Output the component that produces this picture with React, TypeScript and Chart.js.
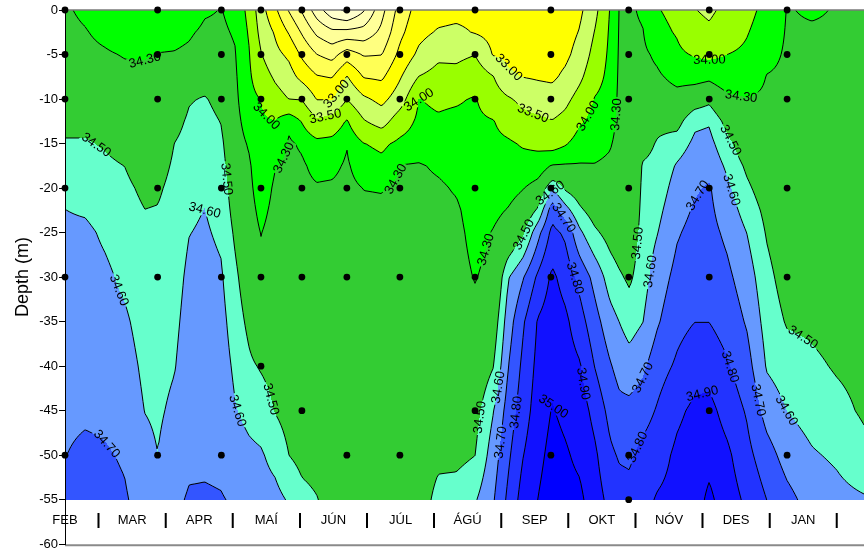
import React, { useEffect, useRef } from "react";
import { Chart, registerables } from "chart.js";

Chart.register(...registerables);

const FONT_FAMILY = "'Liberation Sans', Arial, Helvetica, sans-serif";

// ---- axis text ----
const MONTH_LABELS = ["FEB", "MAR", "APR", "MAÍ", "JÚN", "JÚL", "ÁGÚ", "SEP", "OKT", "NÓV", "DES", "JAN"];
const MONTH_POSITIONS = [0, 1, 2, 3, 4, 5, 6, 7, 8, 9, 10, 11];
const SEPARATOR_POSITIONS = [0.5, 1.5, 2.5, 3.5, 4.5, 5.5, 6.5, 7.5, 8.5, 9.5, 10.5, 11.5];
const MONTH_LABEL_DEPTH = -57.3;
const Y_TITLE = "Depth (m)";

// ---- sampling stations (dots) ----
const STATION_MONTHS = [0, 1.38, 2.33, 2.92, 3.53, 4.2, 4.99, 6.11, 7.24, 8.4, 9.6, 10.76];
const STATION_DEPTHS = [
  [0, 5, 10, 20, 30, 50],
  [0, 5, 10, 20, 30, 50],
  [0, 5, 10, 20, 30, 50],
  [0, 5, 10, 20, 30, 40],
  [0, 5, 10, 20, 30, 45],
  [0, 5, 10, 20, 30, 50],
  [0, 5, 10, 20, 30, 50],
  [0, 5, 10, 20, 30, 45],
  [0, 5, 10, 20, 30, 50],
  [0, 5, 10, 20, 30, 50, 55],
  [0, 5, 10, 20, 30, 45],
  [0, 5, 10, 20, 30, 50],
];

// ---- salinity field ----
const DEPTHS = [0, 2.5, 5, 7.5, 10, 12.5, 15, 17.5, 20, 22.5, 25, 30, 35, 40, 45, 50, 55];
const COLUMN_MONTHS = [
  0.0, 0.3, 0.59, 0.89, 1.19, 1.38, 1.63, 1.85, 2.08, 2.33, 2.54, 2.74, 2.92, 3.13, 3.34, 3.53, 3.75,
  3.98, 4.2, 4.45, 4.72, 4.99, 5.27, 5.56, 5.83, 6.11, 6.38, 6.6, 6.82, 7.05, 7.26, 7.46, 7.67, 7.89,
  8.12, 8.26, 8.41, 8.61, 8.83, 9.12, 9.38, 9.6, 9.87, 10.16, 10.46, 10.76, 11.13, 11.5, 11.91,
];
const SALINITY = [
  [34.32, 34.34, 34.36, 34.39, 34.43, 34.47, 34.51, 34.54, 34.58, 34.601, 34.62, 34.64, 34.65, 34.66, 34.68, 34.698, 34.73],
  [34.27, 34.31, 34.34, 34.38, 34.42, 34.47, 34.51, 34.54, 34.565, 34.59, 34.62, 34.64, 34.65, 34.66, 34.685, 34.72, 34.74],
  [34.2, 34.26, 34.32, 34.36, 34.4, 34.45, 34.49, 34.52, 34.54, 34.56, 34.585, 34.62, 34.64, 34.66, 34.68, 34.71, 34.73],
  [34.15, 34.2, 34.29, 34.34, 34.38, 34.42, 34.46, 34.499, 34.52, 34.535, 34.55, 34.58, 34.615, 34.64, 34.66, 34.69, 34.71],
  [34.16, 34.22, 34.29, 34.33, 34.36, 34.39, 34.42, 34.45, 34.48, 34.501, 34.52, 34.54, 34.56, 34.58, 34.598, 34.63, 34.66],
  [34.18, 34.24, 34.305, 34.34, 34.37, 34.4, 34.43, 34.46, 34.485, 34.505, 34.52, 34.54, 34.555, 34.57, 34.585, 34.601, 34.625],
  [34.19, 34.25, 34.31, 34.36, 34.41, 34.46, 34.501, 34.515, 34.53, 34.54, 34.55, 34.565, 34.58, 34.595, 34.62, 34.65, 34.68],
  [34.2, 34.28, 34.33, 34.4, 34.49, 34.52, 34.54, 34.56, 34.575, 34.587, 34.598, 34.62, 34.635, 34.65, 34.665, 34.68, 34.71],
  [34.28, 34.33, 34.38, 34.44, 34.51, 34.54, 34.56, 34.575, 34.59, 34.601, 34.61, 34.63, 34.645, 34.655, 34.67, 34.685, 34.71],
  [34.305, 34.33, 34.37, 34.41, 34.46, 34.495, 34.52, 34.54, 34.56, 34.572, 34.585, 34.61, 34.63, 34.645, 34.66, 34.68, 34.705],
  [34.24, 34.28, 34.31, 34.33, 34.35, 34.37, 34.39, 34.41, 34.43, 34.455, 34.48, 34.52, 34.55, 34.58, 34.605, 34.64, 34.69],
  [33.9, 33.97, 34.03, 34.07, 34.12, 34.2, 34.28, 34.33, 34.35, 34.37, 34.39, 34.43, 34.475, 34.52, 34.575, 34.62, 34.65],
  [33.2, 33.35, 33.53, 33.75, 33.99, 34.06, 34.11, 34.16, 34.2, 34.25, 34.295, 34.35, 34.4, 34.49, 34.555, 34.61, 34.64],
  [32.6, 32.95, 33.14, 33.43, 33.7, 34.01, 34.15, 34.29, 34.33, 34.35, 34.37, 34.4, 34.43, 34.46, 34.495, 34.57, 34.63],
  [31.95, 32.45, 32.9, 33.2, 33.49, 34.25, 34.33, 34.345, 34.355, 34.365, 34.375, 34.39, 34.41, 34.43, 34.46, 34.499, 34.59],
  [31.45, 31.95, 32.42, 32.85, 33.48, 33.98, 34.27, 34.33, 34.35, 34.36, 34.37, 34.39, 34.4, 34.42, 34.44, 34.47, 34.53],
  [30.75, 31.4, 32.01, 32.54, 32.98, 33.58, 34.12, 34.24, 34.32, 34.35, 34.37, 34.39, 34.4, 34.41, 34.43, 34.46, 34.505],
  [30.15, 31.12, 31.82, 32.47, 32.97, 33.72, 34.13, 34.25, 34.33, 34.35, 34.37, 34.39, 34.4, 34.41, 34.42, 34.44, 34.46],
  [29.9, 31.15, 32.25, 33.03, 33.49, 34.04, 34.29, 34.33, 34.36, 34.37, 34.38, 34.4, 34.41, 34.42, 34.43, 34.44, 34.45],
  [30.45, 31.2, 31.96, 32.47, 33.09, 33.54, 34.01, 34.18, 34.295, 34.34, 34.36, 34.38, 34.4, 34.41, 34.42, 34.43, 34.44],
  [31.35, 31.62, 31.99, 32.42, 32.86, 33.3, 33.92, 34.1, 34.29, 34.33, 34.35, 34.37, 34.39, 34.4, 34.41, 34.42, 34.43],
  [32.2, 32.38, 32.62, 32.95, 33.26, 33.77, 34.09, 34.31, 34.34, 34.35, 34.36, 34.37, 34.38, 34.39, 34.4, 34.41, 34.42],
  [32.7, 32.85, 33.1, 33.51, 34.01, 34.08, 34.18, 34.32, 34.35, 34.36, 34.37, 34.38, 34.39, 34.4, 34.41, 34.42, 34.43],
  [32.8, 33.05, 33.4, 33.67, 33.94, 34.04, 34.13, 34.27, 34.33, 34.35, 34.36, 34.38, 34.4, 34.42, 34.44, 34.47, 34.54],
  [32.85, 33.1, 33.4, 33.64, 33.96, 34.08, 34.16, 34.23, 34.28, 34.33, 34.35, 34.37, 34.39, 34.41, 34.43, 34.47, 34.55],
  [32.85, 32.97, 33.49, 33.8, 34.03, 34.08, 34.12, 34.15, 34.18, 34.21, 34.24, 34.29, 34.36, 34.41, 34.46, 34.499, 34.59],
  [32.8, 32.85, 32.97, 33.52, 33.75, 34.02, 34.1, 34.15, 34.2, 34.26, 34.31, 34.36, 34.43, 34.495, 34.595, 34.65, 34.69],
  [32.75, 32.8, 32.92, 33.07, 33.56, 33.82, 34.06, 34.15, 34.23, 34.31, 34.38, 34.59, 34.65, 34.695, 34.74, 34.78, 34.82],
  [32.75, 32.78, 32.85, 32.99, 33.38, 33.66, 33.96, 34.15, 34.29, 34.4, 34.48, 34.69, 34.785, 34.82, 34.85, 34.895, 34.94],
  [32.75, 32.76, 32.8, 32.95, 33.25, 33.6, 33.9, 34.19, 34.38, 34.52, 34.67, 34.82, 34.91, 34.93, 34.95, 34.975, 35.002],
  [32.75, 32.75, 32.78, 32.92, 33.2, 33.52, 33.85, 34.32, 34.601, 34.76, 34.83, 34.92, 34.955, 34.98, 35.005, 35.03, 35.05],
  [32.78, 32.8, 32.9, 33.1, 33.38, 33.65, 33.97, 34.33, 34.48, 34.64, 34.78, 34.86, 34.92, 34.95, 34.98, 35.01, 35.03],
  [32.9, 33.03, 33.18, 33.4, 33.68, 33.96, 34.16, 34.32, 34.43, 34.52, 34.62, 34.77, 34.84, 34.91, 34.95, 34.98, 35.02],
  [33.35, 33.51, 33.66, 33.82, 34.02, 34.12, 34.22, 34.31, 34.39, 34.45, 34.52, 34.67, 34.74, 34.799, 34.87, 34.92, 34.95],
  [34.02, 34.06, 34.09, 34.12, 34.16, 34.21, 34.28, 34.34, 34.38, 34.41, 34.46, 34.555, 34.64, 34.71, 34.77, 34.82, 34.87],
  [34.31, 34.32, 34.33, 34.34, 34.35, 34.36, 34.37, 34.38, 34.39, 34.41, 34.43, 34.515, 34.599, 34.665, 34.73, 34.79, 34.84],
  [34.33, 34.335, 34.34, 34.345, 34.35, 34.36, 34.37, 34.38, 34.39, 34.4, 34.42, 34.48, 34.56, 34.64, 34.73, 34.785, 34.83],
  [34.27, 34.31, 34.34, 34.36, 34.38, 34.41, 34.46, 34.51, 34.52, 34.53, 34.54, 34.56, 34.598, 34.68, 34.76, 34.83, 34.87],
  [34.02, 34.1, 34.26, 34.33, 34.4, 34.47, 34.51, 34.53, 34.55, 34.575, 34.598, 34.65, 34.69, 34.76, 34.81, 34.86, 34.91],
  [33.9, 33.97, 34.07, 34.24, 34.37, 34.46, 34.55, 34.61, 34.64, 34.665, 34.69, 34.73, 34.77, 34.815, 34.88, 34.92, 34.93],
  [33.52, 33.7, 33.97, 34.23, 34.43, 34.58, 34.62, 34.66, 34.69, 34.71, 34.73, 34.76, 34.799, 34.86, 34.92, 34.95, 34.96],
  [33.4, 33.6, 33.92, 34.26, 34.47, 34.59, 34.63, 34.67, 34.71, 34.72, 34.73, 34.76, 34.799, 34.86, 34.93, 34.97, 35.02],
  [33.65, 33.82, 34.001, 34.17, 34.35, 34.46, 34.53, 34.58, 34.62, 34.65, 34.68, 34.72, 34.76, 34.81, 34.86, 34.92, 34.95],
  [33.9, 33.98, 34.06, 34.15, 34.31, 34.36, 34.42, 34.48, 34.52, 34.56, 34.599, 34.65, 34.69, 34.74, 34.79, 34.83, 34.88],
  [34.1, 34.16, 34.23, 34.31, 34.34, 34.37, 34.39, 34.41, 34.44, 34.47, 34.49, 34.53, 34.56, 34.59, 34.66, 34.74, 34.799],
  [34.31, 34.32, 34.33, 34.34, 34.35, 34.36, 34.37, 34.38, 34.39, 34.4, 34.42, 34.45, 34.49, 34.55, 34.599, 34.66, 34.73],
  [34.28, 34.32, 34.34, 34.35, 34.36, 34.37, 34.38, 34.39, 34.4, 34.41, 34.42, 34.44, 34.48, 34.52, 34.56, 34.61, 34.66],
  [34.31, 34.32, 34.33, 34.34, 34.35, 34.36, 34.37, 34.38, 34.39, 34.4, 34.41, 34.43, 34.46, 34.49, 34.53, 34.585, 34.63],
  [34.32, 34.33, 34.34, 34.35, 34.36, 34.37, 34.38, 34.39, 34.4, 34.41, 34.42, 34.43, 34.45, 34.47, 34.485, 34.53, 34.61],
];

// ---- contour levels and band colours ----
const LEVELS = [30.0, 30.5, 31.0, 31.5, 32.0, 32.5, 33.0, 33.5, 34.0, 34.3, 34.5, 34.6, 34.7, 34.8, 34.9, 35.0];
const BAND_COLORS = [
  "#ffffe6", "#ffffcc", "#ffffb3", "#ffff99", "#ffff80", "#ffff55", "#ffff00", "#ccff66", "#99ff00",
  "#00ff00", "#33cc33", "#66ffcc", "#6699ff", "#3355ff", "#2233ff", "#1111ff", "#0000ff",
];
const LABEL_MIN_LEVEL = 33.0;

function locate(arr: number[], v: number): [number, number] {
  const n = arr.length;
  if (v <= arr[0]) return [0, 0];
  if (v >= arr[n - 1]) return [n - 2, 1];
  let i = 0;
  while (i < n - 2 && arr[i + 1] < v) i++;
  return [i, (v - arr[i]) / (arr[i + 1] - arr[i])];
}

function salinityAt(month: number, depth: number): number {
  const [i, fx] = locate(COLUMN_MONTHS, month);
  const [j, fy] = locate(DEPTHS, depth);
  const c0 = SALINITY[i];
  const c1 = SALINITY[i + 1];
  const a = c0[j] * (1 - fx) + c1[j] * fx;
  const b = c0[j + 1] * (1 - fx) + c1[j + 1] * fx;
  return a * (1 - fy) + b * fy;
}

function bandOf(v: number): number {
  let k = 0;
  while (k < LEVELS.length && v >= LEVELS[k]) k++;
  return k;
}

function hexToRgb(h: string): number[] {
  const n = parseInt(h.slice(1), 16);
  return [(n >> 16) & 255, (n >> 8) & 255, n & 255];
}

// join marching-squares segments into polylines
function chainSegments(s: number[]): number[][][] {
  const n = s.length / 4;
  const key = (x: number, y: number) => Math.round(x * 1000) + "," + Math.round(y * 1000);
  const map = new Map<string, number[]>();
  for (let i = 0; i < n; i++) {
    const k1 = key(s[4 * i], s[4 * i + 1]);
    const k2 = key(s[4 * i + 2], s[4 * i + 3]);
    if (!map.has(k1)) map.set(k1, []);
    if (!map.has(k2)) map.set(k2, []);
    map.get(k1)!.push(i);
    map.get(k2)!.push(i);
  }
  const used = new Uint8Array(n);
  const result: number[][][] = [];
  const extend = (pts: number[][]) => {
    for (;;) {
      const p = pts[pts.length - 1];
      const list = map.get(key(p[0], p[1])) || [];
      let found = -1;
      for (const j of list) if (!used[j]) { found = j; break; }
      if (found < 0) return;
      used[found] = 1;
      const ax = s[4 * found], ay = s[4 * found + 1], bx = s[4 * found + 2], by = s[4 * found + 3];
      if (key(ax, ay) === key(p[0], p[1])) pts.push([bx, by]);
      else pts.push([ax, ay]);
    }
  };
  for (let i = 0; i < n; i++) {
    if (used[i]) continue;
    used[i] = 1;
    let pts = [[s[4 * i], s[4 * i + 1]], [s[4 * i + 2], s[4 * i + 3]]];
    extend(pts);
    pts.reverse();
    extend(pts);
    result.push(pts);
  }
  return result;
}

const contourPlugin = {
  id: "salinityContours",
  beforeDraw(chart: any) {
    const { ctx, chartArea } = chart;
    const xs = chart.scales.x;
    const ys = chart.scales.y;
    const left = Math.round(chartArea.left);
    const right = Math.round(chartArea.right);
    const top = Math.round(ys.getPixelForValue(-DEPTHS[0]));
    const bottom = Math.round(ys.getPixelForValue(-DEPTHS[DEPTHS.length - 1]));
    const W = right - left;
    const H = bottom - top;
    const valueAt = (px: number, py: number) =>
      salinityAt(xs.getValueForPixel(px), -ys.getValueForPixel(py));

    // filled bands
    const off = document.createElement("canvas");
    off.width = W;
    off.height = H;
    const octx = off.getContext("2d") as CanvasRenderingContext2D;
    const img = octx.createImageData(W, H);
    const rgb = BAND_COLORS.map(hexToRgb);
    const colMonth: number[] = [];
    for (let px = 0; px < W; px++) colMonth.push(xs.getValueForPixel(left + px + 0.5));
    for (let py = 0; py < H; py++) {
      const depth = -ys.getValueForPixel(top + py + 0.5);
      for (let px = 0; px < W; px++) {
        const c = rgb[bandOf(salinityAt(colMonth[px], depth))];
        const o = (py * W + px) * 4;
        img.data[o] = c[0];
        img.data[o + 1] = c[1];
        img.data[o + 2] = c[2];
        img.data[o + 3] = 255;
      }
    }
    octx.putImageData(img, 0, 0);
    ctx.drawImage(off, left, top);

    // contour lines (marching squares)
    const step = 2;
    const PX: number[] = [];
    for (let x = left; x < right; x += step) PX.push(x);
    PX.push(right);
    const PY: number[] = [];
    for (let y = top; y < bottom; y += step) PY.push(y);
    PY.push(bottom);
    const nx = PX.length;
    const ny = PY.length;
    const vals = new Float64Array(nx * ny);
    for (let m = 0; m < ny; m++) for (let k = 0; k < nx; k++) vals[m * nx + k] = valueAt(PX[k], PY[m]);

    const segs: number[][] = LEVELS.map(() => []);
    LEVELS.forEach((lv, li) => {
      const out = segs[li];
      for (let m = 0; m < ny - 1; m++) {
        for (let k = 0; k < nx - 1; k++) {
          const a = vals[m * nx + k];
          const b = vals[m * nx + k + 1];
          const c = vals[(m + 1) * nx + k + 1];
          const d = vals[(m + 1) * nx + k];
          const idx = (a >= lv ? 8 : 0) | (b >= lv ? 4 : 0) | (c >= lv ? 2 : 0) | (d >= lv ? 1 : 0);
          if (idx === 0 || idx === 15) continue;
          const x0 = PX[k], x1 = PX[k + 1], y0 = PY[m], y1 = PY[m + 1];
          const T = () => [x0 + (x1 - x0) * ((lv - a) / (b - a)), y0];
          const R = () => [x1, y0 + (y1 - y0) * ((lv - b) / (c - b))];
          const B = () => [x0 + (x1 - x0) * ((lv - d) / (c - d)), y1];
          const L = () => [x0, y0 + (y1 - y0) * ((lv - a) / (d - a))];
          const add = (p: number[], q: number[]) => out.push(p[0], p[1], q[0], q[1]);
          const center = (a + b + c + d) / 4;
          switch (idx) {
            case 1: case 14: add(L(), B()); break;
            case 2: case 13: add(B(), R()); break;
            case 3: case 12: add(L(), R()); break;
            case 4: case 11: add(T(), R()); break;
            case 6: case 9: add(T(), B()); break;
            case 7: case 8: add(T(), L()); break;
            case 5:
              if (center >= lv) { add(T(), L()); add(B(), R()); } else { add(T(), R()); add(B(), L()); }
              break;
            case 10:
              if (center >= lv) { add(T(), R()); add(L(), B()); } else { add(T(), L()); add(B(), R()); }
              break;
          }
        }
      }
    });

    ctx.save();
    ctx.font = `13px ${FONT_FAMILY}`;
    // label placement along each polyline
    const labels: any[] = [];
    const inside = (x: number, y: number) => x > left + 20 && x < right - 20 && y > top + 9 && y < bottom - 9;
    LEVELS.forEach((lv, li) => {
      if (lv < LABEL_MIN_LEVEL) return;
      const text = lv.toFixed(2);
      const w = ctx.measureText(text).width;
      const lines = chainSegments(segs[li]);
      for (const pts of lines) {
        const cum = [0];
        for (let i = 1; i < pts.length; i++) cum.push(cum[i - 1] + Math.hypot(pts[i][0] - pts[i - 1][0], pts[i][1] - pts[i - 1][1]));
        const total = cum[cum.length - 1];
        if (total < 50) continue;
        const count = Math.max(1, Math.round(total / 230));
        for (let c = 0; c < count; c++) {
          const target = ((c + 0.5) * total) / count;
          // try a few positions around the target
          const offsets = [0, 25, -25, 50, -50, 80, -80];
          for (const offd of offsets) {
            const t = target + offd;
            if (t < 15 || t > total - 15) continue;
            let i = 1;
            while (i < cum.length - 1 && cum[i] < t) i++;
            const f = (t - cum[i - 1]) / Math.max(1e-9, cum[i] - cum[i - 1]);
            const cx = pts[i - 1][0] + (pts[i][0] - pts[i - 1][0]) * f;
            const cy = pts[i - 1][1] + (pts[i][1] - pts[i - 1][1]) * f;
            if (!inside(cx, cy)) continue;
            let ok = true;
            for (const l of labels) {
              if (Math.hypot(l.x - cx, l.y - cy) < (l.level === lv ? 110 : 24)) { ok = false; break; }
            }
            if (!ok) continue;
            // direction over a window along the polyline
            let i0 = i - 1, i1 = i;
            while (i0 > 0 && t - cum[i0] < 9) i0--;
            while (i1 < cum.length - 1 && cum[i1] - t < 9) i1++;
            let ang = Math.atan2(pts[i1][1] - pts[i0][1], pts[i1][0] - pts[i0][0]);
            if (ang > Math.PI / 2) ang -= Math.PI;
            if (ang < -Math.PI / 2) ang += Math.PI;
            labels.push({ x: cx, y: cy, a: ang, level: lv, text, w });
            break;
          }
        }
      }
    });

    // lines, with gaps under labels
    ctx.beginPath();
    ctx.rect(left, top, W, H);
    for (const l of labels) {
      const hw = l.w / 2 + 1.5, hh = 6;
      const cs = Math.cos(l.a), sn = Math.sin(l.a);
      const pts = [[-hw, -hh], [hw, -hh], [hw, hh], [-hw, hh]].map(([u, v]) => [l.x + u * cs - v * sn, l.y + u * sn + v * cs]);
      ctx.moveTo(pts[0][0], pts[0][1]);
      for (let i = 1; i < 4; i++) ctx.lineTo(pts[i][0], pts[i][1]);
      ctx.closePath();
    }
    ctx.clip("evenodd");
    ctx.strokeStyle = "#000";
    ctx.lineWidth = 1;
    segs.forEach((s) => {
      ctx.beginPath();
      for (let i = 0; i < s.length; i += 4) {
        ctx.moveTo(s[i], s[i + 1]);
        ctx.lineTo(s[i + 2], s[i + 3]);
      }
      ctx.stroke();
    });
    ctx.restore();

    ctx.save();
    ctx.font = `13px ${FONT_FAMILY}`;
    ctx.fillStyle = "#000";
    ctx.textAlign = "center";
    ctx.textBaseline = "middle";
    for (const l of labels) {
      ctx.save();
      ctx.translate(l.x, l.y);
      ctx.rotate(l.a);
      ctx.fillText(l.text, 0, 0.5);
      ctx.restore();
    }
    // frame lines
    ctx.strokeStyle = "#7a7a7a";
    ctx.lineWidth = 1.5;
    ctx.beginPath();
    ctx.moveTo(left, chartArea.top);
    ctx.lineTo(right, chartArea.top);
    ctx.stroke();
    ctx.lineWidth = 2;
    ctx.strokeStyle = "#8a8a8a";
    ctx.beginPath();
    ctx.moveTo(left, chartArea.bottom + 1);
    ctx.lineTo(right, chartArea.bottom + 1);
    ctx.stroke();
    ctx.restore();
  },
};

const monthLabelPlugin = {
  id: "monthLabels",
  afterDraw(chart: any) {
    const { ctx } = chart;
    const xs = chart.scales.x;
    const ys = chart.scales.y;
    const yPix = ys.getPixelForValue(MONTH_LABEL_DEPTH);
    ctx.save();
    ctx.fillStyle = "#000";
    ctx.textAlign = "center";
    ctx.textBaseline = "middle";
    ctx.font = `13px ${FONT_FAMILY}`;
    MONTH_LABELS.forEach((m, i) => ctx.fillText(m, xs.getPixelForValue(MONTH_POSITIONS[i]), yPix));
    ctx.font = `bold 16px ${FONT_FAMILY}`;
    SEPARATOR_POSITIONS.forEach((v) => ctx.fillText("|", xs.getPixelForValue(v), yPix));
    ctx.restore();
  },
};

export default function App() {
  const ref = useRef<HTMLCanvasElement>(null);
  useEffect(() => {
    const canvas = ref.current;
    if (!canvas) return;
    const dots = STATION_MONTHS.flatMap((m, i) => STATION_DEPTHS[i].map((d) => ({ x: m, y: -d })));
    const chart = new Chart(canvas, {
      type: "scatter",
      data: {
        datasets: [
          {
            data: dots,
            pointRadius: 3.4,
            pointHoverRadius: 3.4,
            backgroundColor: "#000",
            borderColor: "#000",
            borderWidth: 0,
            clip: false,
          } as any,
        ],
      },
      options: {
        animation: false,
        responsive: false,
        events: [],
        layout: { padding: { top: 10, left: 0, right: 0, bottom: 8 } },
        plugins: { legend: { display: false }, tooltip: { enabled: false } },
        scales: {
          x: { type: "linear", display: false, min: 0, max: 11.9 },
          y: {
            type: "linear",
            min: -60,
            max: 0,
            ticks: { stepSize: 5, color: "#000", padding: 1, font: { size: 13, family: FONT_FAMILY } },
            grid: { drawOnChartArea: false, drawTicks: true, tickLength: 6, color: "#000" },
            border: { display: true, color: "#000", width: 1 },
            title: {
              display: true,
              text: Y_TITLE,
              color: "#000",
              font: { size: 18, family: FONT_FAMILY },
              padding: { top: 12, bottom: 0 },
            },
            afterFit: (scale: any) => {
              scale.width = 65;
            },
          },
        },
      } as any,
      plugins: [contourPlugin, monthLabelPlugin],
    });
    return () => chart.destroy();
  }, []);
  return (
    <div style={{ position: "fixed", left: 0, top: 0, width: 867, height: 553, background: "#fff" }}>
      <canvas ref={ref} width={867} height={553} style={{ display: "block", width: 867, height: 553 }} />
    </div>
  );
}
